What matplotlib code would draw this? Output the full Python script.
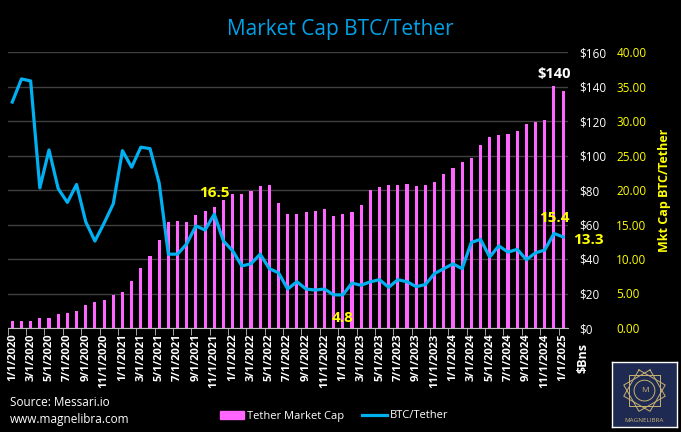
import matplotlib
matplotlib.use("Agg")
import matplotlib.pyplot as plt
import matplotlib.patches as mpatches
from matplotlib.lines import Line2D
import numpy as np

# ---- data ----
months = []
for y in range(2020, 2025):
    for m in range(1, 13):
        months.append(f"{m}/1/{y}")
months.append("1/1/2025")

tether_cap = [4.1, 4.3, 4.3, 6.0, 6.0, 8.3, 8.9, 10.0, 13.5, 15.3, 16.4, 19.3,
              21.1, 27.4, 35.0, 41.9, 51.2, 61.6, 62.2, 61.6, 65.7, 68.0, 70.3, 74.4,
              77.9, 77.9, 79.6, 82.5, 83.1, 72.7, 66.3, 66.3, 67.4, 68.0, 69.2, 65.1,
              66.3, 67.4, 71.5, 80.2, 81.9, 83.1, 83.1, 83.7, 82.5, 83.1, 84.8, 89.5,
              92.9, 96.4, 98.7, 106.3, 110.9, 112.1, 112.7, 114.4, 118.5, 119.6, 120.8, 140.5,
              137.6]

btc_tether = [32.75, 36.1, 35.8, 20.3, 25.8, 20.2, 18.2, 20.8, 15.4, 12.6, 15.2, 18.0,
              25.7, 23.3, 26.2, 26.0, 21.0, 10.7, 10.7, 12.2, 14.8, 14.2, 16.5, 12.6,
              11.2, 9.0, 9.3, 10.7, 8.6, 8.0, 5.65, 6.7, 5.65, 5.5, 5.65, 4.8,
              4.8, 6.5, 6.2, 6.7, 7.0, 5.9, 7.0, 6.7, 6.0, 6.3, 7.9, 8.6,
              9.3, 8.6, 12.4, 12.85, 10.3, 11.9, 11.0, 11.4, 9.9, 10.9, 11.3, 13.7,
              13.2]

bar_ticks = [0, 20, 40, 60, 80, 100, 120, 140, 160]
bar_tick_labels = ["$0", "$20", "$40", "$60", "$80", "$100", "$120", "$140", "$160"]
ratio_ticks = [0, 5, 10, 15, 20, 25, 30, 35, 40]
ratio_tick_labels = ["0.00", "5.00", "10.00", "15.00", "20.00", "25.00", "30.00", "35.00", "40.00"]

# annotations: (index, text)
ratio_labels = [(22, "16.5"), (36, "4.8"), (59, "15.4")]
last_ratio_label = "13.3"
cap_label = (59, "$140")

BG = "black"
PINK = "#FF66FF"
BLUE = "#00B0F0"
YELLOW = "#FFFF00"
FONT = "Open Sans"

plt.rcParams['font.family'] = [FONT, 'DejaVu Sans']

fig = plt.figure(figsize=(6.81, 4.32), dpi=100, facecolor=BG)
W, H = 681, 432
ax = fig.add_axes([7.7 / W, 1 - 328 / H, (567.7 - 7.7) / W, (328 - 52) / H])
ax.set_facecolor(BG)
x = np.arange(len(months))

ax.bar(x, tether_cap, width=0.34, color=PINK, zorder=2)
ax.set_xlim(-0.5, len(months) - 0.5)
ax.set_ylim(0, 160)
ax.grid(axis='y', color="#404040", linewidth=1, zorder=0)
ax.set_axisbelow(True)
for s in ["top", "left", "right"]:
    ax.spines[s].set_visible(False)
ax.spines["bottom"].set_color("#BFBFBF")

ax.set_xticks(x[::2])
ax.set_xticklabels(months[::2], rotation=90, fontweight="bold")
ax.tick_params(axis='x', which='major', length=0, pad=4, labelcolor="white", labelsize=8)
ax.set_xticks(np.arange(-0.5, len(months), 2), minor=True)
ax.tick_params(axis='x', which='minor', length=5, color="#BFBFBF", direction="out")

ax2 = ax.twinx()
ax2.plot(x, btc_tether, color=BLUE, linewidth=2.3, zorder=3, solid_joinstyle="round")
ax2.set_ylim(0, 40)
ax2.set_yticks(ratio_ticks)
ax2.set_yticklabels(ratio_tick_labels)
ax2.tick_params(axis='y', length=0, pad=35, labelcolor=YELLOW, labelsize=8.5)
for s in ["top", "left", "right", "bottom"]:
    ax2.spines[s].set_visible(False)
ax2.set_ylabel("Mkt Cap BTC/Tether", color=YELLOW, fontweight="bold", fontsize=9, labelpad=8)

# primary axis labels on right (after twinx, which resets them to the left)
ax.set_yticks(bar_ticks)
ax.set_yticklabels(bar_tick_labels)
ax.yaxis.tick_right()
ax.tick_params(axis='y', length=0, pad=8, labelcolor="white", labelsize=8.5,
               labelleft=False, labelright=True)

label_y = {22: 19.5, 36: 1.4, 59: 15.9}
for i, t in ratio_labels:
    ax2.text(x[i], label_y[i], t, color=YELLOW, fontweight="bold", fontsize=11,
             ha="center", va="center", zorder=5)
ax2.text(len(months) - 0.5 + 0.55, 12.7, last_ratio_label, color=YELLOW, fontweight="bold",
         fontsize=11, ha="left", va="center", zorder=5, clip_on=False)
ax.text(x[cap_label[0]], 147.5, cap_label[1], color="white", fontweight="bold", fontsize=10.5,
        ha="center", va="center", zorder=5)

fig.text(340 / W, 1 - 29 / H, "Market Cap BTC/Tether", color="#00A2E8", fontsize=15,
         ha="center", va="center")
fig.text(583 / W, 1 - 343 / H, "$Bns", color="white", fontweight="bold", fontsize=9,
         rotation=90, ha="center", va="top")
fig.text(10 / W, 1 - 402 / H, "Source: Messari.io", color="white", fontsize=8.5,
         ha="left", va="center")
fig.text(10 / W, 1 - 419 / H, "www.magnelibra.com", color="white", fontsize=8.5,
         ha="left", va="center")

handles = [mpatches.Patch(color=PINK, label="Tether Market Cap"),
           Line2D([0], [0], color=BLUE, linewidth=2.3, label="BTC/Tether")]
leg = fig.legend(handles=handles, loc="center", bbox_to_anchor=(334 / W, 1 - 416 / H),
                 ncol=2, frameon=False, fontsize=8, labelcolor="white",
                 handlelength=2.2, handleheight=0.7, columnspacing=1.6, handletextpad=0.3)

# logo
lx0, ly0, lw, lh = 612 / W, 1 - 427 / H, 65 / W, 65 / H
lax = fig.add_axes([lx0, ly0, lw, lh])
lax.set_xlim(-1, 1)
lax.set_ylim(-1, 1)
lax.set_facecolor("#1F2A52")
for s in lax.spines.values():
    s.set_color("white")
    s.set_linewidth(1)
lax.set_xticks([])
lax.set_yticks([])
gold = "#C8B273"
for k in range(3):
    ang = k * np.pi / 6
    r = 0.55
    pts = np.array([[np.cos(ang + np.pi / 4 + j * np.pi / 2), np.sin(ang + np.pi / 4 + j * np.pi / 2)] for j in range(5)]) * r * 1.2
    lax.plot(pts[:, 0], pts[:, 1] + 0.12, color=gold, linewidth=0.7)
circ = mpatches.Circle((0, 0.12), 0.32, fill=False, edgecolor=gold, linewidth=0.7)
lax.add_patch(circ)
lax.text(0, 0.12, "M", color=gold, fontsize=6, ha="center", va="center")
lax.text(0, -0.8, "MAGNELIBRA", color=gold, fontsize=4.5, ha="center", va="center")

fig.savefig("out.png", dpi=100, facecolor=BG)
